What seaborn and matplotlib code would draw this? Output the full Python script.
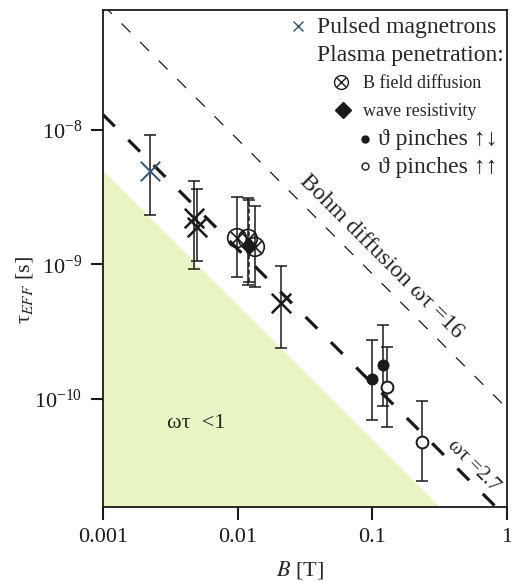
import matplotlib
matplotlib.use("Agg")
import matplotlib.pyplot as plt
import matplotlib.ticker as mticker
import numpy as np
import seaborn as sns

# values
pulsed_B = [0.00223]
pulsed_tau = [4.95e-9]
pulsed_lo = [2.33e-9]
pulsed_hi = [9.2e-9]

cross_B = [0.00474, 0.00499, 0.0209]
cross_tau = [2.22e-9, 1.90e-9, 5.13e-10]
cross_lo = [9.3e-10, 1.06e-9, 2.41e-10]
cross_hi = [4.18e-9, 3.64e-9, 9.67e-10]

bdiff_B = [0.00989, 0.0119, 0.01343]
bdiff_tau = [1.57e-9, 1.55e-9, 1.35e-9]
bdiff_lo = [8.0e-10, 7.0e-10, 6.85e-10]
bdiff_hi = [3.18e-9, 3.1e-9, 2.72e-9]

wave_B = [0.0121]
wave_tau = [1.37e-9]
wave_lo = [7.4e-10]
wave_hi = [3.0e-9]

pinch_anti_B = [0.1, 0.12]
pinch_anti_tau = [1.41e-10, 1.79e-10]
pinch_anti_lo = [6.98e-11, 8.87e-11]
pinch_anti_hi = [2.75e-10, 3.55e-10]

pinch_par_B = [0.128, 0.233]
pinch_par_tau = [1.23e-10, 4.78e-11]
pinch_par_lo = [6.19e-11, 2.45e-11]
pinch_par_hi = [2.44e-10, 9.66e-11]

# omega*tau = const lines, tau * B constant in [s T]
line_B = np.array([0.001, 1.0])
bohm_const = 8.5e-11
wt27_const = 1.3e-11
wt1_const = 5.0e-12

x_ticks = [0.001, 0.01, 0.1, 1]
x_ticklabels = ["0.001", "0.01", "0.1", "1"]
y_ticks = [1e-10, 1e-9, 1e-8]

sns.set_theme(style="ticks")
plt.rcParams['font.family'] = ['Liberation Serif', 'DejaVu Serif']
plt.rcParams['mathtext.fontset'] = 'stix'

W, H = 511, 582
fig = plt.figure(figsize=(W / 100, H / 100), dpi=100)
ax = fig.add_axes([103 / W, (H - 507) / H, 404 / W, 497 / H])
ax.set_xscale('log')
ax.set_yscale('log')
ax.set_xlim(0.001, 1)
ax.set_ylim(1.57e-11, 7.8e-8)

# region omega*tau < 1
ax.fill_between(line_B, 1e-12, wt1_const / line_B, color="#e9f6c3", lw=0, zorder=0)

sns.lineplot(x=line_B, y=bohm_const / line_B, ax=ax, color='k', lw=0.9,
             linestyle=(0, (10, 11)), zorder=1)
sns.lineplot(x=line_B, y=wt27_const / line_B, ax=ax, color='k', lw=2.3,
             linestyle=(0, (5.2, 6.0)), zorder=1)


def errbars(B, tau, lo, hi, dashed=False):
    t = np.array(tau)
    err = [t - np.array(lo), np.array(hi) - t]
    eb = ax.errorbar(B, tau, yerr=err, fmt='none', ecolor='k', elinewidth=1.1,
                     capsize=4.5, capthick=1.1, zorder=2)
    if dashed:
        eb[2][0].set_linestyle((0, (3, 2)))


errbars(pulsed_B, pulsed_tau, pulsed_lo, pulsed_hi)
errbars(cross_B, cross_tau, cross_lo, cross_hi)
errbars(bdiff_B, bdiff_tau, bdiff_lo, bdiff_hi)
errbars(wave_B, wave_tau, wave_lo, wave_hi, dashed=True)
errbars(pinch_anti_B, pinch_anti_tau, pinch_anti_lo, pinch_anti_hi)
errbars(pinch_par_B, pinch_par_tau, pinch_par_lo, pinch_par_hi)

blue = "#2f5479"
sns.scatterplot(x=pulsed_B, y=pulsed_tau, ax=ax, marker='x', s=14 ** 2,
                color=blue, linewidth=1.4, zorder=3)
sns.scatterplot(x=cross_B, y=cross_tau, ax=ax, marker='x', s=14 ** 2,
                color='k', linewidth=1.8, zorder=3)
sns.scatterplot(x=bdiff_B, y=bdiff_tau, ax=ax, marker='o', s=13.5 ** 2,
                facecolor='none', edgecolor='k', linewidth=1.2, zorder=3)
sns.scatterplot(x=bdiff_B, y=bdiff_tau, ax=ax, marker='x', s=9.5 ** 2,
                color='k', linewidth=1.2, zorder=3)
sns.scatterplot(x=wave_B, y=wave_tau, ax=ax, marker='D', s=8 ** 2,
                color='k', edgecolor='k', zorder=4)
sns.scatterplot(x=pinch_anti_B, y=pinch_anti_tau, ax=ax, marker='o', s=8 ** 2,
                color='k', edgecolor='k', zorder=4)
sns.scatterplot(x=pinch_par_B, y=pinch_par_tau, ax=ax, marker='o', s=8.5 ** 2,
                facecolor='white', edgecolor='k', linewidth=1.4, zorder=4)

# axes styling
ax.set_xticks(x_ticks)
ax.set_xticklabels(x_ticklabels)
ax.set_yticks(y_ticks)
ax.xaxis.set_minor_locator(mticker.NullLocator())
ax.yaxis.set_minor_locator(mticker.NullLocator())
ax.tick_params(axis='both', which='major', direction='out', length=9, width=1.5,
               labelsize=16, colors='k', pad=6)
for sp in ax.spines.values():
    sp.set_linewidth(1.3)
    sp.set_color('k')
ax.grid(False)

ax.set_xlabel(r"$B$ [T]", fontsize=16)
ax.xaxis.label.set_va('center')
ax.xaxis.set_label_coords((300 - 103) / 404, (507 - 570) / 497)
ax.set_ylabel(r"τ$_{\mathit{EFF}}$ [s]", fontsize=16)
ax.yaxis.label.set_va('center')
ax.yaxis.set_label_coords((25 - 103) / 404, (507 - 290) / 497)


def px(x, y):
    return (x - 103) / 404, (507 - y) / 497


# annotations
ax.text(*px(381, 257), "Bohm diffusion ωτ =16", transform=ax.transAxes,
        rotation=-45, ha='center', va='center', fontsize=17,
        rotation_mode='anchor')
ax.text(*px(473, 466), "ωτ =2.7", transform=ax.transAxes,
        rotation=-45, ha='center', va='center', fontsize=15,
        rotation_mode='anchor')
ax.text(*px(196, 424), "ωτ  <1", transform=ax.transAxes,
        ha='center', va='center', fontsize=16)

# legend drawn by hand
big = 17
small = 13
ax.plot(*px(298, 26), marker='x', ms=7, mew=1.0, color=blue,
        transform=ax.transAxes, clip_on=False)
ax.text(*px(317, 27), "Pulsed magnetrons", transform=ax.transAxes,
        ha='left', va='center', fontsize=big)
ax.text(*px(317, 56), "Plasma penetration:", transform=ax.transAxes,
        ha='left', va='center', fontsize=big)
ax.plot(*px(341, 82), marker='o', ms=10, mfc='none', mec='k', mew=1.0,
        transform=ax.transAxes, clip_on=False)
ax.plot(*px(341, 82), marker='x', ms=7, mec='k', mew=1.0,
        transform=ax.transAxes, clip_on=False)
ax.text(*px(363, 84), "B field diffusion", transform=ax.transAxes,
        ha='left', va='center', fontsize=small)
ax.plot(*px(343, 110), marker='D', ms=8.5, color='k',
        transform=ax.transAxes, clip_on=False)
ax.text(*px(363, 112), "wave resistivity", transform=ax.transAxes,
        ha='left', va='center', fontsize=small)
ax.plot(*px(365, 139), marker='o', ms=5, color='k',
        transform=ax.transAxes, clip_on=False)
ax.text(*px(378, 140), "ϑ pinches ↑↓", transform=ax.transAxes,
        ha='left', va='center', fontsize=big)
ax.plot(*px(365, 166), marker='o', ms=5, mfc='white', mec='k', mew=1.0,
        transform=ax.transAxes, clip_on=False)
ax.text(*px(378, 167), "ϑ pinches ↑↑", transform=ax.transAxes,
        ha='left', va='center', fontsize=big)

fig.savefig("out.png", dpi=100)
